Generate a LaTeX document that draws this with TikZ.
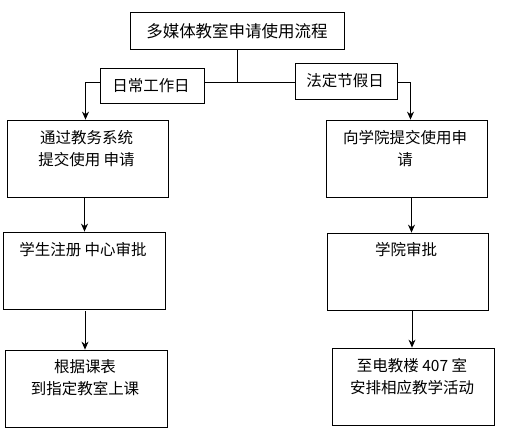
\documentclass[tikz,border=0pt]{standalone}
\usepackage{fontspec}
\setmainfont{Noto Sans CJK SC}
\usetikzlibrary{arrows.meta}
\begin{document}
\begin{tikzpicture}[x=1pt,y=-1pt,
  box/.style={draw,line width=0.8pt,inner sep=0pt,minimum width=#1,minimum height=77pt},
  lab/.style={draw,line width=0.8pt,inner sep=0pt,minimum height=36pt},
  txt/.style={font=\fontsize{15.5}{22}\selectfont,align=center,inner sep=0pt},
  line/.style={line width=0.8pt},
  arr/.style={line width=0.8pt,-{Stealth[length=8pt,width=7pt]}}]
\useasboundingbox (0,0) rectangle (507,435);
% top
\node[draw,line width=0.8pt,minimum width=214pt,minimum height=37pt,inner sep=0pt] (top) at (237,30.5) {};
\node[txt,font=\fontsize{16.5}{22}\selectfont] (ttop) at (237,31) {多媒体教室申请使用流程};
% labels
\node[lab,minimum width=104pt,minimum height=35pt] (lab1) at (152,85.5) {};
\node[txt] (tlab1) at (151,86) {日常工作日};
\node[lab,minimum width=102pt] (lab2) at (346,81) {};
\node[txt] (tlab2) at (345,81) {法定节假日};
% boxes
\node[box=161pt] (A1) at (87.5,158.5) {};
\node[txt] (tA1) at (86.5,149) {通过教务系统\\提交使用 申请};
\node[box=161pt] (B1) at (406.5,158.5) {};
\node[txt] (tB1) at (405,149) {向学院提交使用申\\请};
\node[box=162pt] (A2) at (84,270.5) {};
\node[txt] (tA2) at (83,250) {学生注册 中心审批};
\node[box=161pt] (B2) at (407.5,271.5) {};
\node[txt] (tB2) at (406,250) {学院审批};
\node[box=162pt] (A3) at (86,388.5) {};
\node[txt] (tA3) at (85,378) {根据课表\\到指定教室上课};
\node[box=162pt] (B3) at (413,386.5) {};
\node[txt] (tB3) at (412,376.5) {至电教楼 407 室\\安排相应教学活动};
% connectors
\coordinate (j) at (237,82);
\coordinate (cl) at (85.5,82);
\coordinate (cr) at (410.5,82);
\draw[line] (top.south) -- (j);
\draw[line] (j) -- (lab1.east |- j);
\draw[line] (j) -- (lab2.west |- j);
\draw[arr] (lab1.west |- j) -- (cl) -- (cl |- A1.north);
\draw[arr] (lab2.east |- j) -- (cr) -- (cr |- B1.north);
\coordinate (a1) at (84.5,0);
\coordinate (b1) at (411.5,0);
\draw[arr] (a1 |- A1.south) -- (a1 |- A2.north);
\draw[arr] (b1 |- B1.south) -- (b1 |- B2.north);
\coordinate (a2) at (85,0);
\coordinate (b2) at (412,0);
\draw[arr] (a2 |- A2.south) ++(0,2) -- (a2 |- A3.north);
\draw[arr] (b2 |- B2.south) ++(0,1) -- (b2 |- B3.north);
\end{tikzpicture}
\end{document}
